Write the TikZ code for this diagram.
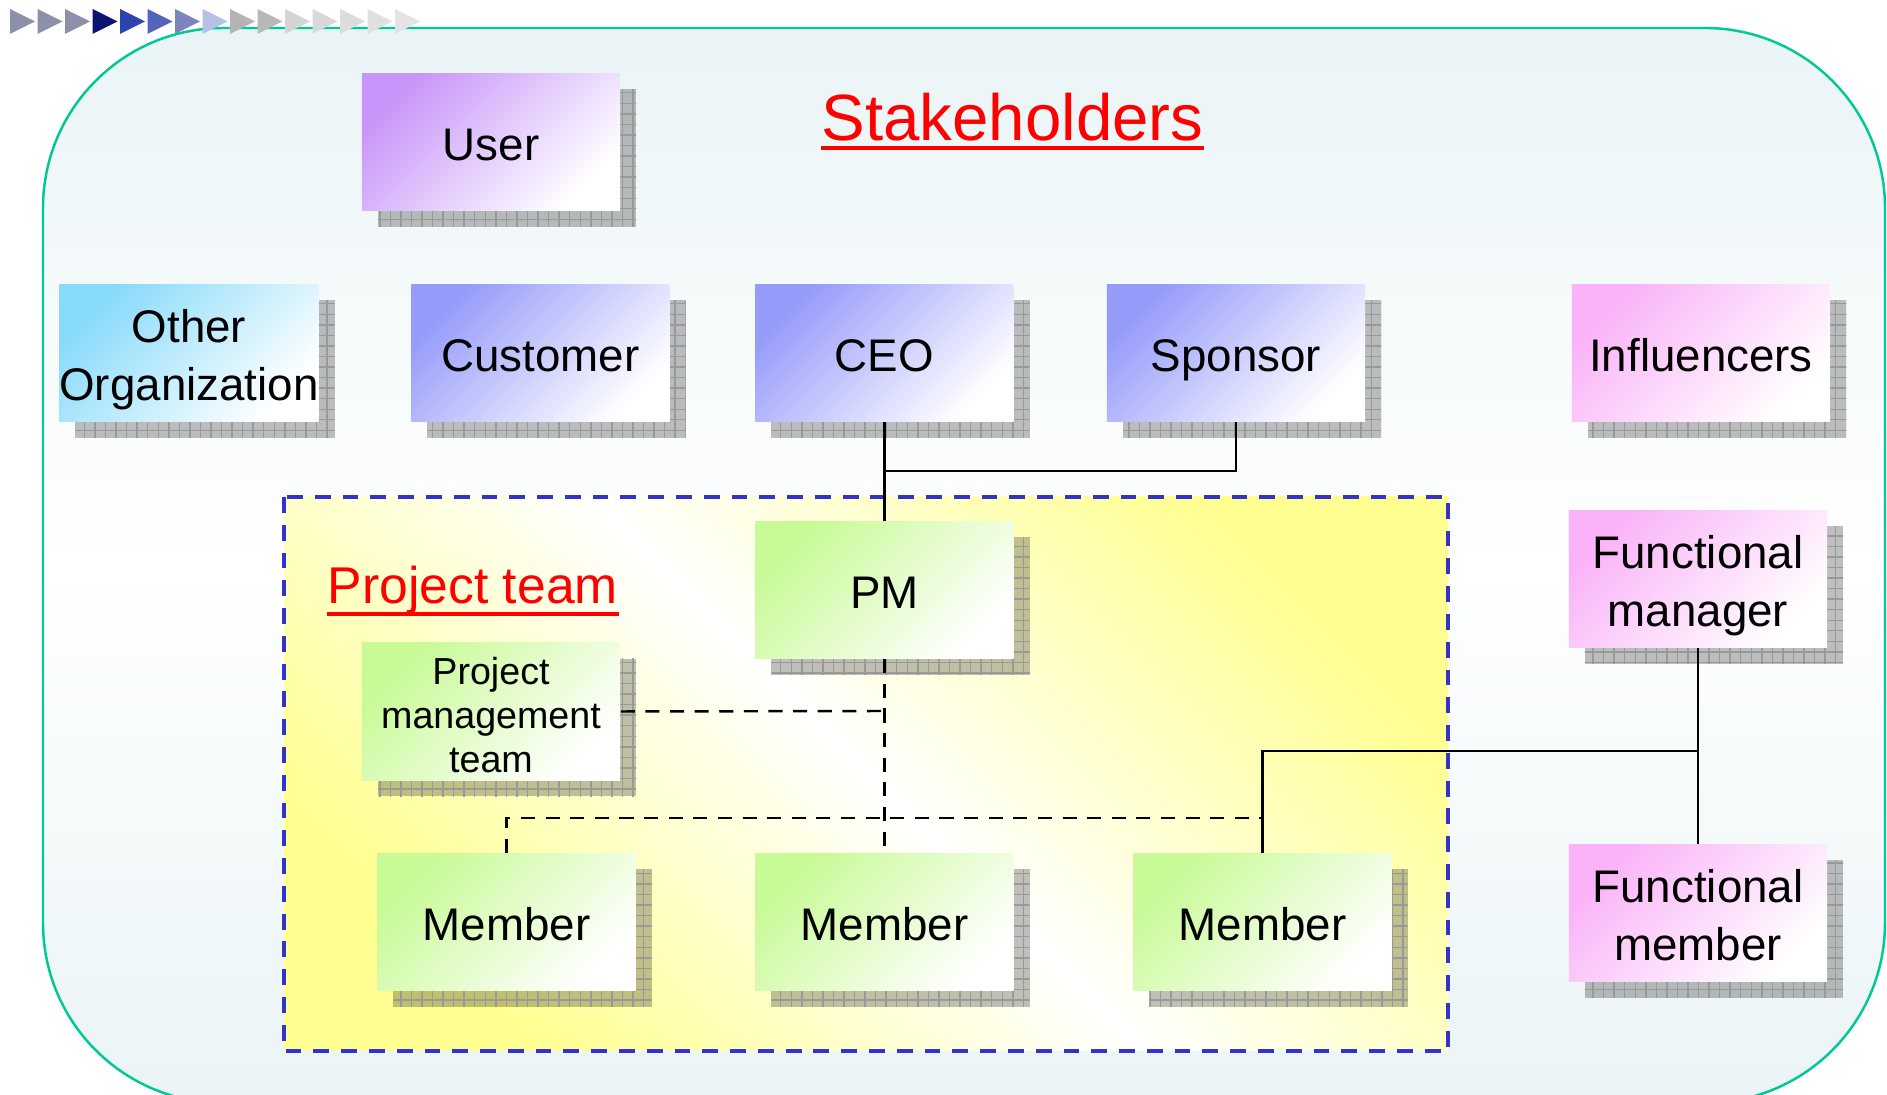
\documentclass[tikz,border=0pt]{standalone}
\RequirePackage{fontspec}
\RequirePackage{tikz}
\usetikzlibrary{shadows}
\usetikzlibrary{patterns}
\setmainfont{Liberation Sans}
\definecolor{frameline}{RGB}{0,200,150}
\definecolor{framefill}{RGB}{234,244,246}
\definecolor{teamline}{RGB}{51,51,204}
\definecolor{teamfill}{RGB}{255,255,145}
\definecolor{userfill}{RGB}{200,150,250}
\definecolor{orgfill}{RGB}{135,218,250}
\definecolor{bossfill}{RGB}{150,155,250}
\definecolor{funcfill}{RGB}{250,178,248}
\definecolor{teamgreen}{RGB}{200,250,150}
\newcommand{\boxstrut}{\rule[-3pt]{0pt}{16.6pt}}
\tikzset{
  box/.style={minimum width=2.58cm, minimum height=1.37cm, inner sep=0pt, align=center,
    font=\fontsize{13}{16.5}\selectfont,
    execute at begin node=\boxstrut,
    general shadow={shadow xshift=.16cm, shadow yshift=-.16cm, fill=black, fill opacity=.25},
    general shadow={shadow xshift=.16cm, shadow yshift=-.16cm, pattern=grid, pattern color=black!40},
    top color=#1, bottom color=white, shading angle=45},
  twolines/.style={text height=30.3pt, text depth=3pt},
  link/.style={line width=.8pt},
  dashlink/.style={line width=.7pt, dash pattern=on 4pt off 3pt},
  headline/.style={text=red, inner sep=0pt, anchor=base west}
}
\begin{document}
\begin{tikzpicture}[x=0.01cm,y=-0.01cm]
                \useasboundingbox (0,0) rectangle (1887,1095);
                \clip (0,0) rectangle (1887,1095);
                \draw[frameline, line width=.7pt, rounded corners=1.8cm,
                      top color=framefill, bottom color=framefill, middle color=white]
                      (43,28) rectangle (1885,1103);
                \foreach \c [count=\i from 0] in {8C90A8,8C90A8,8C90A8,0C1470,2C44B0,5464B8,7C84BC,B4C0E4,B4B4B4,B8B8B8,D4D4D4,D8D8D8,DCDCDC,E0E0E0,E4E4E4}{
                    \definecolor{tri}{HTML}{\c}
                    \fill[tri] (10+27.5*\i,9) -- (35+27.5*\i,21.5) -- (10+27.5*\i,34) -- cycle;
                }
            
                \draw[teamline, line width=1.3pt, dash pattern=on 4.5pt off 3.4pt,
                      top color=teamfill, bottom color=teamfill, middle color=white, shading angle=-45]
                      (284,497) rectangle (1448,1051);
            
                \node[headline, font=\fontsize{18.6}{22}\selectfont] (stake) at (821,141) {Stakeholders};
                \draw[red, line width=1.1pt] ([yshift=-2pt]stake.base west) -- ([yshift=-2pt]stake.base east);
                \node[headline, font=\fontsize{14.7}{17}\selectfont] (team) at (327,604) {Project team};
                \draw[red, line width=1pt] ([yshift=-2.8pt]team.base west) -- ([yshift=-2.8pt]team.base east);
            
                \node[box=userfill] (user) at (491,142) {User};
                \node[box=orgfill, twolines] (other) at (189,353) {Other\\Organization};
                \node[box=bossfill] (customer) at (540.5,353) {Customer};
                \node[box=bossfill] (ceo) at (884.5,353) {CEO};
                \node[box=bossfill] (sponsor) at (1236,353) {Sponsor};
                \node[box=funcfill] (influencers) at (1701,353) {Influencers};
                \node[box=teamgreen] (pm) at (884.5,590) {PM};
                \node[box=teamgreen, font=\fontsize{10.7}{12.6}\selectfont, text height=34.9pt, text depth=0pt] (pmteam) at (491,711.5) {Project\\management\\team};
                \node[box=teamgreen] (memberA) at (506.5,922) {Member};
                \node[box=teamgreen] (memberB) at (884.5,922) {Member};
                \node[box=teamgreen] (memberC) at (1262.5,922) {Member};
                \node[box=funcfill, twolines] (funcmgr) at (1698,579) {Functional\\manager};
                \node[box=funcfill, twolines] (funcmem) at (1698,913) {Functional\\member};
            
                \coordinate (ceojoin) at (884.5,471);
                \coordinate (pmtjoin) at (884.5,711);
                \coordinate (memjoin) at (1262.5,818);
                \coordinate (funcjoin) at (1698,751);
                \draw[link] (ceo.south) -- (pm.north);
                \draw[link] (sponsor.south) |- (ceojoin);
                \draw[dashlink] (pm.south) -- (memberB.north);
                \draw[dashlink] (pmteam.east) -- (pmtjoin);
                \draw[dashlink] (memberA.north) |- (memjoin);
                \draw[link] (funcmgr.south) -- (funcmem.north);
                \draw[link] (memberC.north) |- (funcjoin);
\end{tikzpicture}
\end{document}
